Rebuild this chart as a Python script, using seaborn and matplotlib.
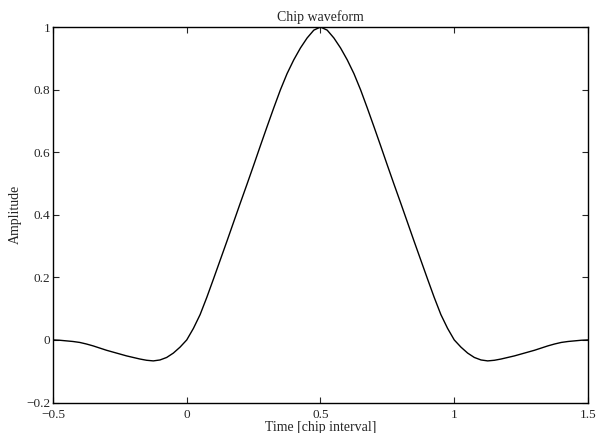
import matplotlib
matplotlib.use("Agg")
import matplotlib.pyplot as plt
import seaborn as sns
import pandas as pd

# chip waveform, 0.025 step
time = [i * 0.025 - 0.5 for i in range(81)]
amplitude = [
    0.000, -0.001, -0.003, -0.005, -0.008, -0.013, -0.019, -0.026, -0.033, -0.039,
    -0.045, -0.051, -0.056, -0.061, -0.065, -0.067, -0.064, -0.056, -0.042, -0.023,
    0.000, 0.037, 0.081, 0.136, 0.195, 0.255, 0.315, 0.376, 0.437, 0.497,
    0.558, 0.620, 0.681, 0.741, 0.799, 0.851, 0.895, 0.933, 0.965, 0.990,
    1.000,
    0.990, 0.965, 0.933, 0.895, 0.851, 0.799, 0.741, 0.681, 0.620, 0.558,
    0.497, 0.437, 0.376, 0.315, 0.255, 0.195, 0.136, 0.081, 0.037, 0.000,
    -0.023, -0.042, -0.056, -0.064, -0.067, -0.065, -0.061, -0.056, -0.051, -0.045,
    -0.039, -0.033, -0.026, -0.019, -0.013, -0.008, -0.005, -0.003, -0.001, 0.000,
]
x_ticks = [-0.5, 0, 0.5, 1, 1.5]
x_tick_labels = ["\u22120.5", "0", "0.5", "1", "1.5"]
y_ticks = [-0.2, 0, 0.2, 0.4, 0.6, 0.8, 1]
y_tick_labels = ["\u22120.2", "0", "0.2", "0.4", "0.6", "0.8", "1"]

df = pd.DataFrame({"time": time, "amplitude": amplitude})

sns.set_style("ticks")
plt.rcParams["font.family"] = ["Liberation Serif", "DejaVu Serif"]
plt.rcParams["xtick.direction"] = "in"
plt.rcParams["ytick.direction"] = "in"

fig = plt.figure(figsize=(5.98, 4.33), dpi=100)
ax = fig.add_axes([0.0886, 0.0704, 0.8947, 0.8672])

sns.lineplot(data=df, x="time", y="amplitude", color="black",
             linewidth=1.0, estimator=None, sort=False, ax=ax)

ax.set_xlim(-0.5, 1.5)
ax.set_ylim(-0.2, 1)
ax.set_xticks(x_ticks, x_tick_labels)
ax.set_yticks(y_ticks, y_tick_labels)
ax.tick_params(axis="both", which="both", direction="in", length=4,
               width=0.8, labelsize=9.5, top=True, right=True,
               labeltop=False, labelright=False)
ax.tick_params(axis="x", pad=5)
ax.tick_params(axis="y", pad=2)
for side in ["top", "bottom", "left", "right"]:
    ax.spines[side].set_visible(True)
    ax.spines[side].set_linewidth(1.0)
    ax.spines[side].set_color("black")

ax.set_title("Chip waveform", fontsize=10, pad=4)
ax.set_xlabel("Time [chip interval]", fontsize=10, labelpad=0)
ax.set_ylabel("Amplitude", fontsize=10, labelpad=3)

fig.savefig("out.png", dpi=100)
